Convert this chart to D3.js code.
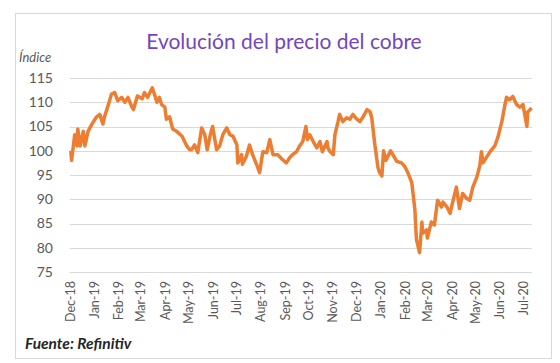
<!DOCTYPE html>
<html>
<head>
<meta charset="utf-8">
<script src="https://cdn.jsdelivr.net/npm/d3@7"></script>
<style>
  body { margin: 0; background: #fff; }
  svg text { font-family: Lato, "Open Sans", sans-serif; }
</style>
</head>
<body>
<div id="chart"></div>
<script>

// Data
var dates = [
    "2018-12-02","2018-12-03","2018-12-07","2018-12-10","2018-12-11","2018-12-14","2018-12-18","2018-12-20",
    "2018-12-24","2018-12-29","2019-01-04","2019-01-08","2019-01-12","2019-01-14","2019-01-18","2019-01-23",
    "2019-01-27","2019-01-31","2019-02-05","2019-02-09","2019-02-13","2019-02-18","2019-02-20","2019-02-25",
    "2019-03-03","2019-03-06","2019-03-10","2019-03-16","2019-03-22","2019-03-25","2019-03-28","2019-04-01",
    "2019-04-03","2019-04-07","2019-04-11","2019-04-16","2019-04-23","2019-04-29","2019-05-03","2019-05-05",
    "2019-05-09","2019-05-13","2019-05-18","2019-05-22","2019-05-25","2019-05-29","2019-06-01","2019-06-06",
    "2019-06-10","2019-06-14","2019-06-19","2019-06-23","2019-06-27","2019-07-02","2019-07-03","2019-07-08",
    "2019-07-09","2019-07-14","2019-07-18","2019-07-22","2019-07-27","2019-07-31","2019-08-04","2019-08-09",
    "2019-08-13","2019-08-17","2019-08-23","2019-08-29","2019-09-03","2019-09-07","2019-09-11","2019-09-16",
    "2019-09-20","2019-09-24","2019-09-28","2019-09-30","2019-10-03","2019-10-07","2019-10-12","2019-10-16",
    "2019-10-19","2019-10-25","2019-10-26","2019-10-29","2019-11-02","2019-11-04","2019-11-08","2019-11-10",
    "2019-11-14","2019-11-19","2019-11-23","2019-11-27","2019-12-02","2019-12-06","2019-12-10","2019-12-15",
    "2019-12-19","2019-12-21","2019-12-25","2019-12-29","2019-12-31","2020-01-03","2020-01-05","2020-01-08",
    "2020-01-14","2020-01-22","2020-01-28","2020-02-01","2020-02-05","2020-02-10","2020-02-14","2020-02-16",
    "2020-02-18","2020-02-20","2020-02-23","2020-02-24","2020-02-29","2020-03-01","2020-03-06","2020-03-10",
    "2020-03-14","2020-03-19","2020-03-21","2020-03-26","2020-03-30","2020-04-02","2020-04-07","2020-04-11",
    "2020-04-15","2020-04-20","2020-04-24","2020-04-28","2020-05-03","2020-05-07","2020-05-09","2020-05-11",
    "2020-05-16","2020-05-20","2020-05-26","2020-05-30","2020-06-04","2020-06-08","2020-06-10","2020-06-14",
    "2020-06-18","2020-06-23","2020-06-27","2020-07-01","2020-07-06","2020-07-07","2020-07-12"
];
var values = [
    100, 98, 103.3, 101, 104.5, 101, 104, 101,
    104, 105.5, 107, 107.5, 105.5, 107, 109, 111.7,
    112, 110.3, 111, 110, 111, 109, 108.5, 111.3,
    110.7, 112, 111, 113, 110, 111, 109.5, 109,
    106.5, 107, 104.5, 104, 103, 101, 100.2, 100.2,
    101.2, 99.6, 104.7, 103.3, 100.2, 103.3, 105, 100.2,
    101, 103.3, 104.7, 103.3, 103, 101.2, 97.5, 99.2,
    97.2, 98.8, 101.2, 99.2, 97.2, 95.5, 99.8, 99.6,
    102.3, 99.2, 99.2, 98.2, 97.5, 98.5, 99.2, 99.8,
    101, 101.9, 105, 102.3, 103.3, 102, 100.6, 101.9,
    99.8, 101.9, 100.6, 99.8, 99.2, 103.3, 106, 107.5,
    106, 106.8, 106.5, 107.5, 106.5, 106, 107, 108.5,
    108, 106.8, 101.2, 96.5, 95.5, 94.8, 100, 98,
    100, 97.8, 97.5, 96.8, 95.5, 93.5, 88, 81.8,
    80.4, 79, 85.3, 83, 83.7, 82, 85.3, 84.7,
    89.8, 88.4, 89.4, 88.4, 87.1, 89.2, 92.5, 88.1,
    91.2, 90.2, 89.8, 92.5, 94.5, 97, 99.8, 97.5,
    98.8, 99.8, 101, 102.8, 106, 109.5, 111, 110.5,
    111.2, 109.5, 109, 109.5, 105, 108, 108.8
];
var yTicks = [75, 80, 85, 90, 95, 100, 105, 110, 115];
var monthTicks = ["2018-12-01","2019-01-01","2019-02-01","2019-03-01","2019-04-01","2019-05-01","2019-06-01",
    "2019-07-01","2019-08-01","2019-09-01","2019-10-01","2019-11-01","2019-12-01","2020-01-01",
    "2020-02-01","2020-03-01","2020-04-01","2020-05-01","2020-06-01","2020-07-01"];

var parseDate = d3.timeParse("%Y-%m-%d"),
    formatMonth = d3.timeFormat("%b-%y");

var series = dates.map(function(d, i) { return { date: parseDate(d), value: values[i] }; });


// SVG drawing area
var width = 560,
    height = 363;

var svg = d3.select("#chart").append("svg")
    .attr("width", width)
    .attr("height", height);

// Outer frame
svg.append("rect")
    .attr("x", 15.5)
    .attr("y", 13.5)
    .attr("width", 536)
    .attr("height", 345)
    .attr("fill", "#fff")
    .attr("stroke", "#d9d9d9");


// Scales
var x = d3.scaleTime()
    .domain([parseDate(monthTicks[0]), parseDate(monthTicks[monthTicks.length - 1])])
    .range([70, 523]);

var y = d3.scaleLinear()
    .domain([75, 115])
    .range([272, 78]);


// Gridlines
svg.selectAll(".grid")
    .data(yTicks)
    .enter().append("line")
    .attr("class", "grid")
    .attr("x1", 70)
    .attr("x2", 532)
    .attr("y1", function(d) { return Math.round(y(d)) + 0.5; })
    .attr("y2", function(d) { return Math.round(y(d)) + 0.5; })
    .attr("stroke", "#d9d9d9")
    .attr("stroke-width", 1);


// Y axis labels
var yAxis = d3.axisLeft(y)
    .tickValues(yTicks)
    .tickSize(0)
    .tickPadding(0);

var gy = svg.append("g")
    .attr("transform", "translate(53,0)")
    .call(yAxis);
gy.select(".domain").remove();
gy.selectAll("text")
    .attr("fill", "#595959")
    .style("font-size", "14px");


// X axis labels (rotated)
var xAxis = d3.axisBottom(x)
    .tickValues(monthTicks.map(parseDate))
    .tickFormat(formatMonth)
    .tickSize(0)
    .tickPadding(0);

var gx = svg.append("g")
    .attr("transform", "translate(0,281)")
    .call(xAxis);
gx.select(".domain").remove();
gx.selectAll("text")
    .attr("fill", "#595959")
    .style("font-size", "12.5px")
    .attr("text-anchor", "end")
    .attr("dy", "0.35em")
    .attr("x", 0)
    .attr("y", 0)
    .attr("transform", "rotate(-90)");


// Line
var line = d3.line()
    .x(function(d) { return x(d.date); })
    .y(function(d) { return y(d.value); });

svg.append("path")
    .datum(series)
    .attr("fill", "none")
    .attr("stroke", "#ed7d31")
    .attr("stroke-width", 3.5)
    .attr("stroke-linejoin", "round")
    .attr("d", line);


// Titles
svg.append("text")
    .attr("x", 284)
    .attr("y", 49)
    .attr("text-anchor", "middle")
    .attr("fill", "#7446bd")
    .style("font-size", "21px")
    .text("Evolución del precio del cobre");

svg.append("text")
    .attr("x", 19)
    .attr("y", 62)
    .attr("fill", "#595959")
    .style("font-size", "13px")
    .style("font-style", "italic")
    .text("Índice");

svg.append("text")
    .attr("x", 25)
    .attr("y", 349)
    .attr("fill", "#262626")
    .style("font-size", "15.5px")
    .style("font-style", "italic")
    .style("font-weight", "bold")
    .text("Fuente: Refinitiv");

</script>
</body>
</html>
